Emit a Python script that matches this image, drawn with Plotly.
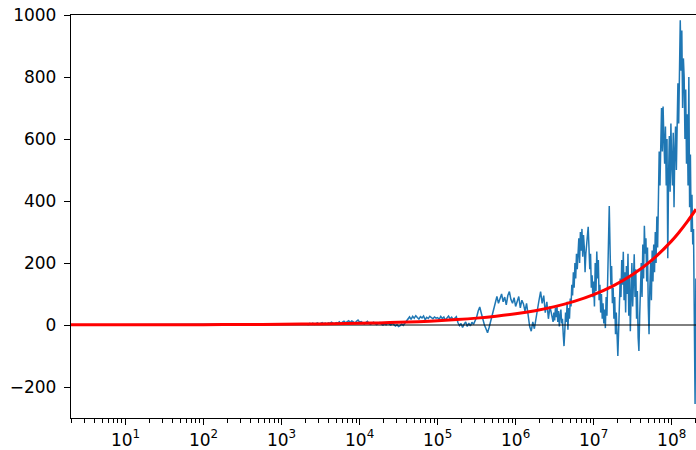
import numpy as np
import plotly.graph_objects as go
import math

# ---------------- data ----------------
# Blue series: head (hidden under the red curve), then two evenly spaced log10 grids
blue_head_x = [2, 10, 100, 1000, 1600]
blue_head_y = [0, 1, 1, 3, 2]

blue_a_logx = np.round(np.arange(3.30, 6.481, 0.02), 2)   # 160 samples
blue_a_y = [
    2, 4, 1, 5, 3, 6, 2, 4, 7, 3, 5, 8, 4, 6, 3, 7, 5, 9, 6, 4, 8,
    6, 10, 4, 9, 12, 7, 11, 14, 8, 13, 10, 6, 12, 16, 9,
    11, 7, 3, 8, 12, 5, 2, 6, 9, 4, 1, 5, 8, 3, 0,
    4, 1, 6, 3, 0, 5, 2, -3, 1, -5, -2, 3, -1, 6, 12,
    20, 26, 18, 28, 22, 30, 24, 19, 27, 23, 29, 17, 25, 21, 28, 24, 20, 26, 22,
    24, 18, 28, 21, 26, 15, 23, 29, 20, 25, 17, 22, 27,
    8, -2, 5, -8, 3, 10, -5, 6, -3, 9, 2, 12,
    25, 45, 58, 38, 15, 0, -12, -25, -8, 12, 35,
    60, 78, 92, 70, 85, 100, 75, 90, 65, 95, 108, 82, 70, 88, 60, 75, 92, 55, 80, 68, 45, 70,
    30, -5, -20, 10, -12, 25, 50,
    80, 108, 70, 95, 40, 75, 20, 60, 35, 10,
]

blue_b_logx = np.round(np.arange(6.49, 8.3101, 0.01), 2)  # 183 samples
blue_b_y = [
    40, 15, 55, 25, 60, 10, 45, -5, 30, 50, 5, 20,
    -30, -68, -20, 40, 10, 75, -15, 55, 20, 85,
    60, 130, 95, 170, 120, 200, 150, 230, 180, 260,
    280, 200, 300, 240, 310, 220, 290, 250, 170, 230,
    270, 300, 317, 250, 180, 230, 120, 160, 90, 140,
    60, 200, 110, 237, 150, 210, 80, 130, 40, 100,
    20, 70, 5, 50, -10, 90, 30, 150, 260, 384,
    250, 130, 190, 70, 120, 20, 90, -30, 40, -60,
    -100, -20, 60, 150, 90, 210, 130, 236, 80, 170,
    40, 190, 100, 230, 30, 160, -20, 120, 200, 60,
    150, 228, 90, 180, 20, 110, -40, -84, 30, 120,
    200, 90, 260, 150, 320, 230, 280, 140, 250, 60,
    -30, 120, 200, 80, 240, 140, 260, 170, 300, 200,
    350, 250, 480, 560, 450, 620, 700, 560, 705, 600,
    520, 640, 450, 600, 215, 480, 610, 430, 650, 520,
    450, 620, 380, 560, 640, 500, 700, 780, 650, 880,
    983, 820, 950, 700, 860, 800, 600, 760, 520, 680,
    450, 800, 380, 550, 300, 420, 260, 310, -100, -255, 150,
]

# Red smooth curve
red_logx = [0.301, 0.5, 1, 1.5, 2, 2.5, 3, 3.5, 4, 4.25, 4.5, 4.75, 5, 5.25, 5.5,
            5.75, 6, 6.25, 6.5, 6.75, 7, 7.25, 7.5, 7.75, 8, 8.1, 8.2, 8.312]
red_y = [1.02, 0.77, 0.69, 0.81, 1.09, 1.54, 2.29, 3.49, 5.43, 6.82, 8.58, 10.84, 13.73,
         17.44, 22.2, 28.3, 36.2, 46.3, 59.4, 76.3, 98.1, 126.3, 162.8, 210.1, 271.4,
         300.8, 333.4, 373.5]

# Axis limits and ticks
X_MIN, X_MAX = 2.0, 2.05e8
Y_MIN, Y_MAX = -300, 1000
x_major = [10 ** k for k in range(1, 9)]
x_major_text = [f"10<sup>{k}</sup>" for k in range(1, 9)]
y_ticks = [-200, 0, 200, 400, 600, 800, 1000]
y_tick_text = ["\u2212200", "0", "200", "400", "600", "800", "1000"]

# ---------------- figure ----------------
blue_x = list(blue_head_x) + [10 ** v for v in blue_a_logx] + [10 ** v for v in blue_b_logx]
blue_y = list(blue_head_y) + list(blue_a_y) + list(blue_b_y)
red_x = [10 ** v for v in red_logx]

x_minor = [m * 10 ** k for k in range(0, 9) for m in range(2, 10)
           if X_MIN <= m * 10 ** k <= X_MAX]

fig = go.Figure()
fig.add_trace(go.Scatter(x=blue_x, y=blue_y, mode="lines",
                         line=dict(color="#1f77b4", width=1.5),
                         xaxis="x", yaxis="y", showlegend=False, hoverinfo="skip"))
fig.add_trace(go.Scatter(x=[X_MIN, X_MAX], y=[0, 0], mode="lines",
                         line=dict(color="black", width=1),
                         xaxis="x2", yaxis="y", showlegend=False, hoverinfo="skip"))
fig.add_trace(go.Scatter(x=red_x, y=red_y, mode="lines", line_shape="spline",
                         line=dict(color="#ff0000", width=3),
                         xaxis="x2", yaxis="y", showlegend=False, hoverinfo="skip"))

xr = [math.log10(X_MIN), math.log10(X_MAX)]
font = dict(family="DejaVu Sans", size=17, color="black")

fig.update_layout(
    width=696, height=450,
    margin=dict(l=71, r=0, t=15, b=27),
    paper_bgcolor="white", plot_bgcolor="white",
    font=font,
    xaxis=dict(type="log", range=xr, showgrid=False, zeroline=False,
               showline=True, linecolor="black", linewidth=1.3, mirror=True,
               ticks="outside", ticklen=6, tickwidth=1.3, tickcolor="black",
               tickvals=x_major, ticktext=x_major_text, tickfont=font),
    xaxis2=dict(type="log", range=xr, overlaying="x", anchor="y", side="bottom",
                showgrid=False, zeroline=False, showline=False,
                ticks="outside", ticklen=3.5, tickwidth=1, tickcolor="black",
                tickvals=x_minor, showticklabels=False),
    yaxis=dict(range=[Y_MIN, Y_MAX], showgrid=False, zeroline=False,
               showline=True, linecolor="black", linewidth=1.3,
               ticks="outside", ticklen=6, tickwidth=1.3, tickcolor="black",
               tickvals=y_ticks, ticktext=y_tick_text, tickfont=font,
               ticklabelstandoff=4),
)

fig.write_html("out.html")
